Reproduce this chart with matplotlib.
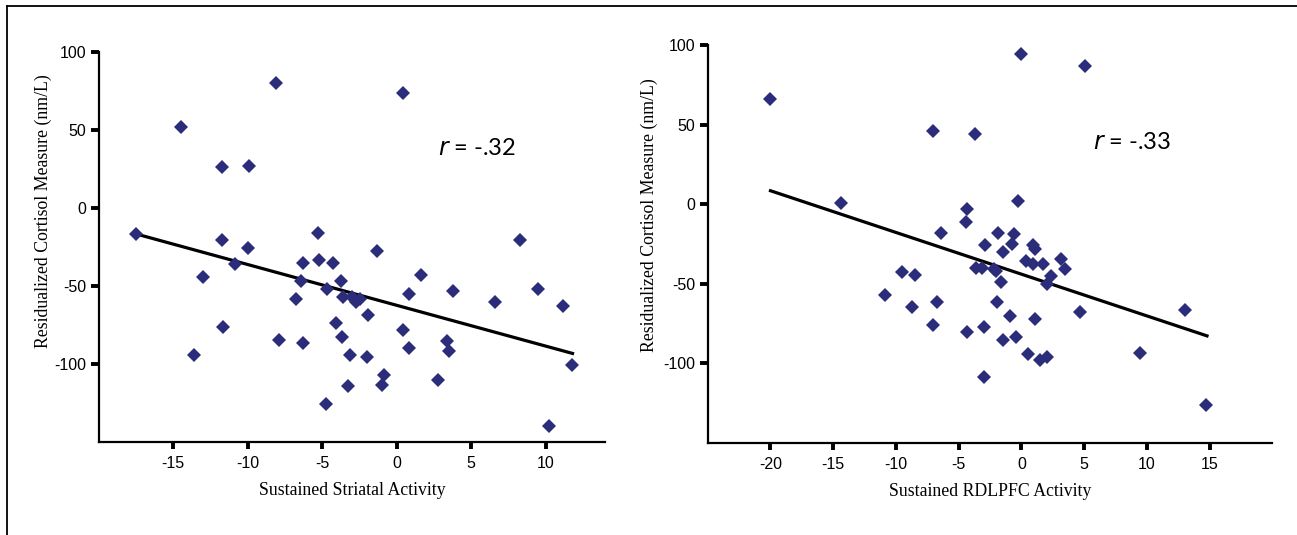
import matplotlib
matplotlib.use("Agg")
import matplotlib.pyplot as plt
from matplotlib.lines import Line2D

plt.rcParams["axes.unicode_minus"] = False

# left panel: sustained striatal activity vs residualized cortisol
striatal_x = [-17.5, -14.5, -8.1, 0.45, -11.7, -9.9, -11.7, -10.0, -10.85, -13.0,
              -11.65, -13.6, -7.9, -6.3, -6.75, -6.4, -6.3, -5.3, -5.2, -4.3,
              -4.65, -3.75, -3.6, -3.0, -2.7, -2.45, -4.1, -3.7, -3.15, -3.3,
              -4.75, -1.9, -1.35, -2.0, -0.85, -1.0, 0.4, 0.85, 0.8, 1.65,
              2.75, 3.4, 3.5, 3.8, 6.6, 8.25, 9.45, 11.15, 11.75, 10.25]
striatal_y = [-16.5, 51.8, 80.3, 73.7, 26.3, 27.0, -20.2, -25.4, -36.0, -44.3,
              -76.3, -93.9, -84.6, -86.4, -58.1, -46.9, -35.1, -15.8, -32.9, -34.9,
              -51.5, -46.9, -57.0, -57.0, -60.0, -58.0, -73.5, -82.7, -94.3, -114.0,
              -125.2, -68.4, -27.6, -95.2, -106.6, -113.4, -78.3, -54.8, -89.7, -43.0,
              -110.0, -84.9, -91.2, -52.9, -59.9, -20.4, -51.5, -62.5, -100.4, -139.3]
striatal_fit_x = [-17.5, 11.8]
striatal_fit_y = [-16.5, -93.0]

# right panel: sustained RDLPFC activity vs residualized cortisol
rdlpfc_x = [-20.0, -0.05, 5.1, -7.05, -3.7, -14.35, -0.3, -4.3, -4.45, -6.4,
            -1.85, -0.55, -0.75, -2.9, 0.9, 1.1, -1.5, 0.4, 0.9, 1.7,
            3.2, 3.45, -3.6, -3.1, -2.2, -2.0, -1.6, 2.4, 2.05, -9.55,
            -8.5, -10.85, -6.7, -8.7, -1.95, -0.9, 1.1, 4.65, -7.05, -3.0,
            -4.3, -0.4, -1.5, 0.55, 1.5, 2.05, -3.0, 13.05, 9.45, 14.75]
rdlpfc_y = [66.6, 94.5, 87.0, 46.2, 44.5, 0.9, 1.9, -2.9, -11.1, -18.2,
            -18.0, -18.7, -24.7, -25.6, -25.4, -27.9, -30.2, -35.5, -37.5, -37.8,
            -34.6, -40.7, -39.7, -39.7, -40.7, -41.8, -48.7, -45.3, -50.1, -42.4,
            -44.3, -57.3, -61.7, -64.6, -61.7, -70.1, -72.2, -67.4, -75.8, -77.4,
            -80.4, -83.1, -85.2, -94.0, -97.8, -96.1, -108.3, -66.6, -93.4, -125.9]
rdlpfc_fit_x = [-20.0, 14.8]
rdlpfc_fit_y = [8.6, -82.7]

panels = [
    dict(x=striatal_x, y=striatal_y, fx=striatal_fit_x, fy=striatal_fit_y,
         xlabel="Sustained Striatal Activity", r="-.32",
         xticks=[-15, -10, -5, 0, 5, 10], xlim=(-20, 14), rpos=(2.8, 38),
         ylab_at=(-0.093, 0.593), rect=[0.0761, 0.1729, 0.3906, 0.7301]),
    dict(x=rdlpfc_x, y=rdlpfc_y, fx=rdlpfc_fit_x, fy=rdlpfc_fit_y,
         xlabel="Sustained RDLPFC Activity", r="-.33",
         xticks=[-20, -15, -10, -5, 0, 5, 10, 15], xlim=(-25, 20), rpos=(5.7, 39),
         ylab_at=(-0.089, 0.573), rect=[0.5457, 0.1722, 0.4352, 0.7429]),
]

MARKER = "#2b2c7a"

fig = plt.figure(figsize=(12.97, 5.35), dpi=100)

for p in panels:
    ax = fig.add_axes(p["rect"])
    ax.plot(p["x"], p["y"], ls="none", marker="D", ms=7, color=MARKER,
            markeredgewidth=0, zorder=3)
    ax.plot(p["fx"], p["fy"], color="black", lw=2.3, zorder=2)
    ax.set_xlim(*p["xlim"])
    ax.set_ylim(-150, 100)
    ax.set_xticks(p["xticks"])
    ax.set_yticks([100, 50, 0, -50, -100])
    for side in ("top", "right"):
        ax.spines[side].set_visible(False)
    for side in ("left", "bottom"):
        ax.spines[side].set_linewidth(1.6)
    ax.tick_params(axis="y", length=6, width=2.8, pad=3,
                   labelsize=11.5, labelfontfamily="Liberation Sans")
    ax.tick_params(axis="x", length=5, width=2.8, pad=5,
                   labelsize=11.5, labelfontfamily="Liberation Sans")
    ax.set_xlabel(p["xlabel"], family="Liberation Serif", fontsize=12.8, labelpad=8)
    ax.set_ylabel("Residualized Cortisol Measure (nm/L)", family="Liberation Serif",
                  fontsize=12.8)
    ax.yaxis.set_label_coords(*p["ylab_at"])
    ax.text(p["rpos"][0], p["rpos"][1], "$\\it{r}$ = " + p["r"], fontsize=17,
            family="Lato", va="center", ha="left")

# outer frame (top and left only, as in the source figure)
fig.add_artist(Line2D([0.0054, 1.0], [0.988, 0.988], color="black", lw=1.3,
                      transform=fig.transFigure))
fig.add_artist(Line2D([0.0054, 0.0054], [0.0, 0.988], color="black", lw=1.3,
                      transform=fig.transFigure))

fig.savefig("out.png", dpi=100, facecolor="white")
